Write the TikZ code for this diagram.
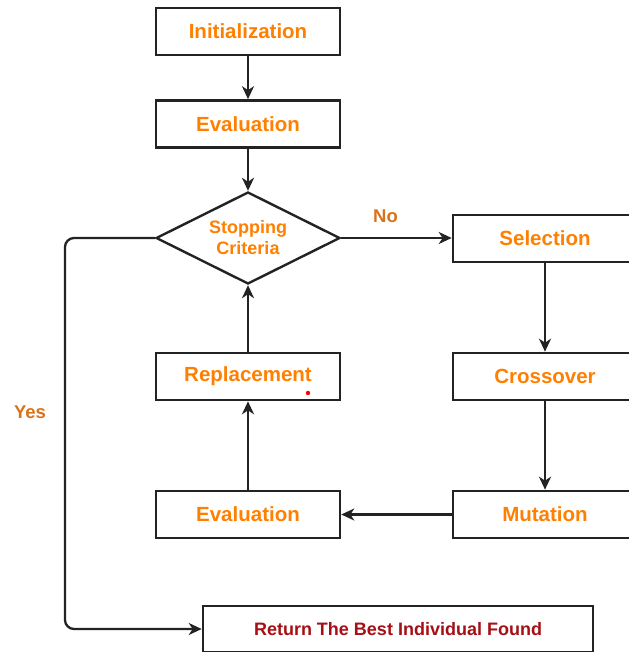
\documentclass[tikz,border=0pt]{standalone}
\usepackage{fontspec}
\setmainfont{Liberation Sans}
\usetikzlibrary{shapes.geometric,arrows.meta}
\definecolor{txtorange}{RGB}{255,128,0}
\definecolor{lblorange}{RGB}{217,115,25}
\definecolor{darkred}{RGB}{165,15,21}
\definecolor{edge}{RGB}{35,35,35}
\tikzset{
  stepbox/.style={draw=edge, line width=2.6pt, fill=white, minimum width=184pt, minimum height=47pt, inner sep=0pt,
    text=txtorange, font=\fontsize{20.5}{24}\selectfont\bfseries},
  decision/.style={diamond, draw=edge, line width=2.4pt, fill=white, minimum width=184pt, minimum height=92pt, inner sep=0pt,
    aspect=2, align=center, text=txtorange, font=\fontsize{18}{21}\selectfont\bfseries},
  finalbox/.style={draw=edge, line width=2.6pt, fill=white, minimum width=390pt, minimum height=46pt, inner sep=0pt,
    text=darkred, font=\fontsize{18}{21}\selectfont\bfseries},
  lbl/.style={text=lblorange, font=\fontsize{18.5}{22}\selectfont\bfseries},
  conn/.style={draw=edge, line width=2.3pt, -{Stealth[length=13pt,width=12pt,inset=4pt]}}
}
\begin{document}
\begin{tikzpicture}[x=1pt,y=-1pt]
\useasboundingbox (0,0) rectangle (628,652);
\node[stepbox] (init) at (248,31.5) {Initialization};
\node[stepbox] (eval1) at (248,124) {Evaluation};
\node[decision] (stop) at (248,238) {Stopping\\Criteria};
\node[stepbox] (sel) at (545,238.5) {Selection};
\node[stepbox] (repl) at (248,376.5) {Replacement};
\node[stepbox] (cross) at (545,376.5) {Crossover};
\node[stepbox] (eval2) at (248,514.5) {Evaluation};
\node[stepbox] (mut) at (545,514.5) {Mutation};
\node[finalbox] (ret) at (398,629) {Return The Best Individual Found};
\node[lbl] (no) at (385.5,216) {No};
\node[lbl] (yes) at (30,412) {Yes};
\coordinate (ytop) at (65,238);
\coordinate (ybot) at (65,629);
\draw[conn] (init) -- (eval1);
\draw[conn] (eval1) -- (stop.north);
\draw[conn] (stop.east) -- (stop.east -| sel.west);
\draw[conn] (sel) -- (cross);
\draw[conn] (cross) -- (mut);
\draw[conn] (mut) -- (eval2);
\draw[conn] (eval2) -- (repl);
\draw[conn] (repl) -- (stop.south);
\draw[conn, rounded corners=9pt] (stop.west) -- (ytop) -- (ybot) -- (ret.west);
\fill[red] (308,393) circle (2.2);
\end{tikzpicture}
\end{document}
